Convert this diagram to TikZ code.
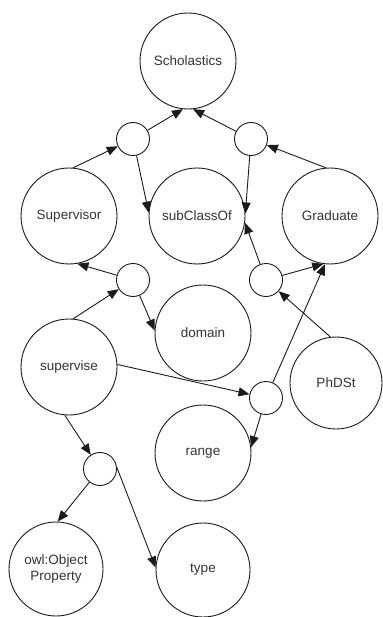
\documentclass[tikz,border=0pt]{standalone}
\usepackage{fontspec}
\setmainfont{Liberation Sans}
\usetikzlibrary{arrows.meta}
\definecolor{labelgray}{HTML}{333333}
\definecolor{linegray}{HTML}{1A1A1A}
\begin{document}
\begin{tikzpicture}[x=1pt,y=-1pt,
  concept/.style={circle,draw=linegray,line width=0.9pt,minimum size=96pt,inner sep=0pt,
    text=labelgray,font=\fontsize{13.5}{16}\selectfont,align=center},
  joint/.style={circle,draw=linegray,line width=0.9pt,minimum size=33pt,inner sep=0pt},
  link/.style={draw=linegray,line width=0.9pt,-{Triangle[length=11pt,width=9pt]}}]
\useasboundingbox (0,0) rectangle (382,617);
% class and property nodes
\node[concept] (sch) at (188,61) {Scholastics};
\node[concept] (sup) at (69,216) {Supervisor};
\node[concept] (sub) at (197,216) {subClassOf};
\node[concept] (grad) at (330,216) {Graduate};
\node[concept] (dom) at (203,333) {domain};
\node[concept] (sv) at (69,367) {supervise};
\node[concept,minimum size=92pt] (phd) at (336,383) {PhDSt};
\node[concept] (rng) at (203,453) {range};
\node[concept,minimum size=94pt] (owl) at (56,569) {owl:Object\\Property};
\node[concept,minimum size=94pt] (type) at (203,570) {type};
% statement (blank) nodes
\node[joint] (s1) at (133,139) {};
\node[joint] (s2) at (251,139) {};
\node[joint] (s3) at (133,280) {};
\node[joint] (s4) at (266,280) {};
\node[joint] (s5) at (266,398) {};
\node[joint] (s6) at (100,469) {};
% Supervisor subClassOf Scholastics
\draw[link] (sup.85) -- (s1);
\draw[link] (s1) -- (sch.264);
\draw[link] (s1) -- (sub.176);
% Graduate subClassOf Scholastics
\draw[link] (grad.95) -- (s2);
\draw[link] (s2) -- (sch.276);
\draw[link] (s2) -- (sub.3);
% PhDSt subClassOf Graduate
\draw[link] (phd.97) -- (s4);
\draw[link] (s4) -- (grad.262);
\draw[link] (s4) -- (sub.-8);
% supervise domain Supervisor
\draw[link] (sv.85) -- (s3);
\draw[link] (s3) -- (sup.280);
\draw[link] (s3) -- (dom.177);
% supervise range Graduate
\draw[link] (sv.3) -- (s5);
\draw[link] (s5) -- (grad.264);
\draw[link] (s5) -- (rng.7);
% supervise type owl:ObjectProperty
\draw[link] (sv.265) -- (s6);
\draw[link] (s6) -- (owl.88);
\draw[link] (s6.5) -- (type.177);
\end{tikzpicture}
\end{document}
